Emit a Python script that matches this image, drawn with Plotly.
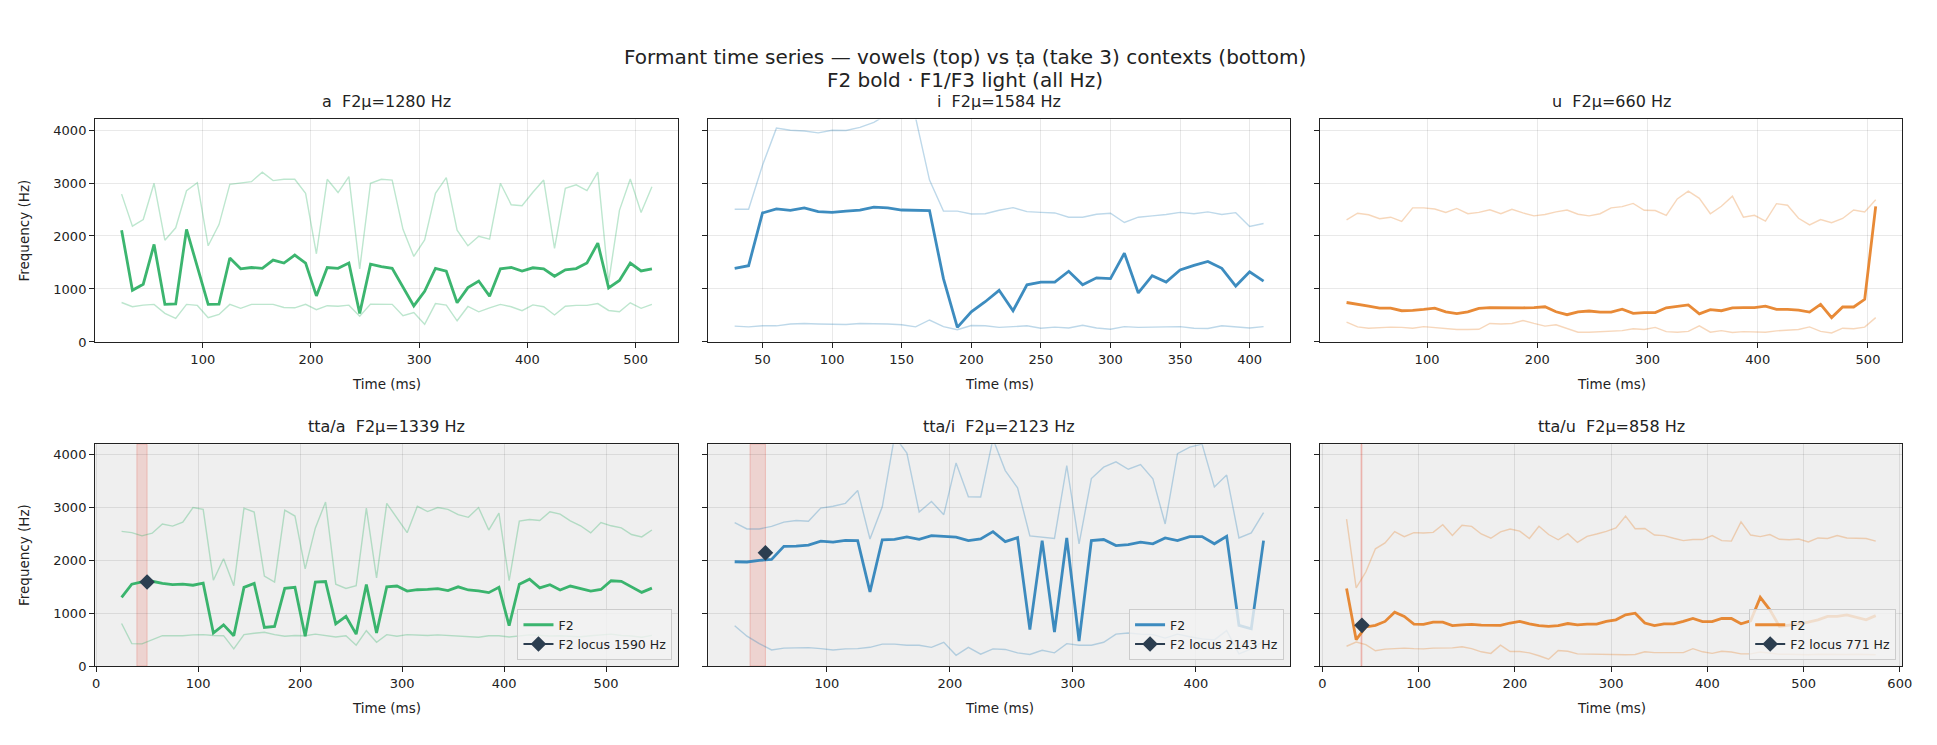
import numpy as np
import plotly.graph_objects as go

FONT = "DejaVu Sans"
W, H = 1937, 745

# ---------------- data (Hz) ----------------
# vowel "a"  (frames every 10 ms from 25 ms)
A_T = list(range(25, 516, 10))
A_F1 = [745, 665, 695, 710, 540, 445, 710, 690, 460, 520, 710, 635, 710, 710, 710, 650, 645, 710, 610, 685,
        675, 695, 485, 715, 715, 710, 495, 555, 335, 725, 695, 400, 670, 570, 645, 710, 665, 590, 700, 665,
        510, 675, 690, 690, 725, 595, 570, 740, 635, 710]
A_F2 = [2110, 975, 1090, 1840, 710, 720, 2125, 1440, 710, 715, 1585, 1380, 1405, 1390, 1545, 1490, 1640, 1490, 870, 1405,
        1390, 1490, 540, 1470, 1420, 1390, 1030, 680, 955, 1390, 1335, 740, 1025, 1150, 865, 1380, 1405, 1340, 1400, 1380,
        1240, 1360, 1385, 1490, 1865, 1020, 1160, 1490, 1340, 1380]
A_F3 = [2790, 2185, 2310, 2995, 1920, 2155, 2855, 3005, 1815, 2215, 2975, 3005, 3025, 3205, 3045, 3070, 3070, 2805, 1665, 3070,
        2820, 3120, 1380, 2995, 3070, 3055, 2125, 1615, 1925, 2805, 3100, 2110, 1815, 1995, 1940, 2995, 2590, 2570, 2825, 3055,
        1765, 2900, 2965, 2855, 3205, 1130, 2485, 3075, 2445, 2930]

# vowel "i"
I_T = list(range(30, 411, 10))
I_F1 = [300, 285, 305, 305, 340, 350, 340, 340, 330, 350, 350, 340, 325, 285, 415, 290, 230, 310, 305,
        275, 290, 305, 260, 280, 265, 315, 265, 240, 290, 275, 280, 280, 290, 260, 255, 305, 290, 265, 290]
I_F2 = [1390, 1440, 2435, 2510, 2485, 2530, 2460, 2445, 2470, 2490, 2545, 2530, 2490, 2490, 2480, 1195, 275, 570, 760,
        975, 590, 1080, 1130, 1130, 1335, 1080, 1210, 1195, 1675, 925, 1250, 1130, 1360, 1445, 1520, 1390, 1055, 1325, 1150]
I_F3 = [2505, 2505, 3335, 4035, 3995, 3980, 3945, 3995, 3990, 4050, 4145, 4300, 4400, 4230, 3055, 2470, 2470, 2415, 2420,
        2485, 2535, 2460, 2445, 2435, 2355, 2355, 2410, 2430, 2255, 2355, 2380, 2405, 2445, 2420, 2455, 2405, 2440, 2180, 2235]

# vowel "u"
U_T = list(range(27, 508, 10))
U_F1 = [375, 285, 260, 275, 280, 275, 260, 290, 275, 250, 235, 235, 240, 350, 340, 350, 405, 350, 300, 325,
        250, 185, 185, 195, 195, 215, 250, 235, 275, 195, 185, 200, 305, 185, 215, 180, 195, 195, 185, 210,
        225, 235, 285, 200, 170, 260, 250, 280, 460]
U_F2 = [745, 715, 675, 640, 640, 590, 595, 615, 640, 570, 535, 570, 635, 650, 645, 645, 645, 650, 665, 570,
        515, 570, 585, 565, 565, 620, 540, 555, 555, 645, 675, 700, 530, 610, 590, 645, 650, 650, 675, 615,
        615, 600, 565, 710, 460, 660, 660, 805, 2560]
U_F3 = [2305, 2430, 2400, 2325, 2355, 2275, 2530, 2530, 2510, 2445, 2520, 2420, 2445, 2495, 2420, 2505, 2435, 2380, 2405, 2455,
        2490, 2410, 2380, 2420, 2530, 2555, 2615, 2485, 2480, 2390, 2700, 2845, 2710, 2420, 2560, 2750, 2355, 2390, 2280, 2610,
        2580, 2335, 2210, 2310, 2250, 2330, 2490, 2455, 2685]

# context tta/a
TA_T = list(range(25, 546, 10))
TA_F1 = [805, 425, 420, 500, 575, 575, 575, 590, 595, 580, 575, 325, 595, 620, 640, 595, 565, 580, 575, 605,
         580, 550, 575, 395, 670, 450, 595, 565, 595, 590, 580, 590, 580, 570, 550, 545, 575, 575, 550, 575,
         590, 580, 570, 575, 565, 555, 575, 590, 605, 580, 570, 545, 580]
TA_F2 = [1300, 1550, 1595, 1605, 1565, 1540, 1550, 1530, 1570, 625, 780, 575, 1490, 1565, 730, 750, 1470, 1490, 565, 1590,
         1600, 800, 940, 605, 1545, 625, 1500, 1515, 1420, 1445, 1450, 1465, 1430, 1500, 1440, 1425, 1390, 1490, 765, 1550,
         1645, 1480, 1540, 1440, 1515, 1465, 1420, 1450, 1615, 1605, 1500, 1395, 1475]
TA_F3 = [2550, 2525, 2465, 2515, 2690, 2650, 2725, 3000, 2965, 1625, 2030, 1520, 2990, 2915, 1705, 1590, 2950, 2840, 1840, 2615,
         3105, 1550, 1470, 1520, 2990, 1670, 3080, 2805, 2525, 3025, 2925, 3000, 2965, 2865, 2815, 3000, 2575, 2895, 1615, 2745,
         2775, 2755, 2920, 2875, 2750, 2655, 2520, 2715, 2655, 2615, 2490, 2445, 2575]

# context tta/i
TI_T = list(range(25, 456, 10))
TI_F1 = [765, 565, 425, 305, 340, 350, 350, 330, 305, 325, 330, 355, 415, 415, 395, 395, 355, 450, 205, 355, 225, 325,
         315, 250, 220, 300, 250, 425, 395, 395, 450, 605, 625, 605, 595, 530, 605, 555, 515, 495, 670, 230, 325, 470]
TI_F2 = [1975, 1970, 2000, 2020, 2265, 2270, 2290, 2365, 2345, 2380, 2375, 1405, 2390, 2400, 2445, 2400, 2470, 2450, 2440, 2375, 2405, 2545,
         2355, 2430, 690, 2375, 645, 2425, 475, 2375, 2395, 2280, 2300, 2345, 2315, 2425, 2375, 2450, 2450, 2315, 2455, 770, 705, 2375]
TI_F3 = [2715, 2595, 2595, 2645, 2725, 2755, 2740, 2990, 3025, 3080, 3325, 2405, 3015, 4350, 4030, 2915, 3115, 2865, 3845, 3205, 3200, 4300,
         3700, 3375, 2465, 2440, 2415, 3795, 2315, 3550, 3765, 3865, 3725, 3815, 3545, 2690, 4020, 4145, 4200, 3390, 3615, 2425, 2520, 2905]

# context tta/u
TU_T = list(range(25, 576, 10))
TU_F1 = [375, 455, 405, 290, 320, 325, 340, 330, 325, 340, 345, 345, 365, 330, 270, 240, 395, 275, 275, 250,
         195, 130, 295, 280, 230, 225, 225, 220, 215, 215, 220, 270, 255, 250, 255, 255, 330, 270, 240, 280,
         265, 230, 230, 265, 250, 225, 225, 220, 215, 225, 220, 215, 220, 225, 220, 215]
TU_F2 = [1470, 500, 740, 770, 845, 1020, 940, 795, 790, 830, 830, 765, 780, 790, 775, 770, 770, 815, 845, 800,
         765, 750, 765, 805, 780, 795, 795, 845, 875, 970, 1000, 815, 765, 800, 800, 845, 900, 840, 840, 900,
         900, 800, 855, 1300, 1065, 750, 770, 800, 830, 875, 940, 940, 970, 920, 875, 955]
TU_F3 = [2780, 1480, 1780, 2220, 2330, 2545, 2450, 2525, 2520, 2530, 2675, 2470, 2665, 2645, 2500, 2420, 2540, 2595, 2555, 2415,
         2645, 2490, 2390, 2505, 2340, 2455, 2500, 2550, 2615, 2840, 2600, 2605, 2480, 2470, 2420, 2375, 2395, 2395, 2470, 2375,
         2365, 2730, 2480, 2450, 2490, 2400, 2390, 2405, 2350, 2425, 2415, 2470, 2425, 2425, 2415, 2365]

TITLES = ["a  F2μ=1280 Hz", "i  F2μ=1584 Hz", "u  F2μ=660 Hz",
          "tta/a  F2μ=1339 Hz", "tta/i  F2μ=2123 Hz", "tta/u  F2μ=858 Hz"]
LOCUS_T = [50, 50, 41]
LOCUS_HZ = [1590, 2143, 771]
SPANS = [(40, 50), (37.5, 50), (40, 41)]
X_DTICK = [100, 50, 100, 100, 100, 100]

GREEN, BLUE, ORANGE = "#27ae60", "#2980b9", "#e67e22"
LOCUS_COLOR = "#2c3e50"
SPAN_COLOR = "rgba(231,76,60,0.17)"
SPAN_EDGE = "rgba(231,76,60,0.25)"

panels = [
    (A_T, A_F1, A_F2, A_F3, GREEN), (I_T, I_F1, I_F2, I_F3, BLUE), (U_T, U_F1, U_F2, U_F3, ORANGE),
    (TA_T, TA_F1, TA_F2, TA_F3, GREEN), (TI_T, TI_F1, TI_F2, TI_F3, BLUE), (TU_T, TU_F1, TU_F2, TU_F3, ORANGE),
]

# ---------------- layout geometry (px) ----------------
COLS = [(92.7, 680.0), (710.0, 1295.7), (1326.0, 1912.0)]
ROWS = [(120.7, 345.7), (449.0, 673.3)]

TICK_FS = 13
LABEL_FS = 13.5
TITLE_FS = 16
SUPTITLE_FS = 20
LEGEND_FS = 12.5

fig = go.Figure()
layout = dict(
    width=W, height=H, margin=dict(l=0, r=0, t=0, b=0),
    paper_bgcolor="white", plot_bgcolor="white",
    font=dict(family=FONT, color="#222", size=TICK_FS),
    showlegend=True,
)
shapes, annotations = [], []
GRID = "rgba(0,0,0,0.085)"

for i, (t, f1, f2, f3, col) in enumerate(panels):
    r, c = divmod(i, 3)
    n = "" if i == 0 else str(i + 1)
    xa, ya = "x" + n, "y" + n
    x0, x1 = COLS[c]
    y0, y1 = ROWS[r]
    tmin, tmax = min(t), max(t)
    pad = 0.05 * (tmax - tmin)
    layout["xaxis" + n] = dict(
        domain=[x0 / W, x1 / W], anchor=ya, range=[tmin - pad, tmax + pad],
        tick0=0, dtick=X_DTICK[i], showgrid=True, gridcolor=GRID, gridwidth=1,
        showline=True, mirror=True, linecolor="#222", linewidth=1.1,
        ticks="outside", ticklen=5, tickwidth=1, tickcolor="#222",
        tickfont=dict(size=TICK_FS), zeroline=False,
    )
    layout["yaxis" + n] = dict(
        domain=[1 - y1 / H, 1 - y0 / H], anchor=xa, range=[0, 4200],
        tick0=0, dtick=1000, showgrid=True, gridcolor=GRID, gridwidth=1,
        showline=True, mirror=True, linecolor="#222", linewidth=1.1,
        ticks="outside", ticklen=5, tickwidth=1, tickcolor="#222",
        showticklabels=(c == 0), tickfont=dict(size=TICK_FS), zeroline=False,
    )
    # light formants
    for f in (f1, f3):
        fig.add_trace(go.Scatter(x=t, y=f, mode="lines", xaxis=xa, yaxis=ya,
                                 line=dict(color=col, width=1.4), opacity=0.3,
                                 showlegend=False, hoverinfo="skip"))
    leg = "legend" if c == 0 else "legend" + str(c + 1)
    fig.add_trace(go.Scatter(x=t, y=f2, mode="lines", xaxis=xa, yaxis=ya, name="F2",
                             line=dict(color=col, width=2.8), opacity=0.9,
                             showlegend=(r == 1), legend=leg))
    if r == 1:
        # grey panel background
        shapes.append(dict(type="rect", xref=xa + " domain", yref=ya + " domain",
                           x0=0, x1=1, y0=0, y1=1, fillcolor="#efefef",
                           line=dict(width=0), layer="below"))
        s0, s1 = SPANS[c]
        shapes.append(dict(type="rect", xref=xa, yref=ya + " domain", x0=s0, x1=s1,
                           y0=0, y1=1, fillcolor=SPAN_COLOR,
                           line=dict(width=1, color=SPAN_EDGE), layer="below"))
        fig.add_trace(go.Scatter(x=[LOCUS_T[c]], y=[LOCUS_HZ[c]], mode="lines+markers",
                                 xaxis=xa, yaxis=ya, name=f"F2 locus {LOCUS_HZ[c]} Hz",
                                 line=dict(color=LOCUS_COLOR, width=2),
                                 marker=dict(symbol="diamond", size=12, color=LOCUS_COLOR),
                                 legend=leg))
        layout[leg] = dict(
            x=(x1 - 6) / W, y=1 - (y1 - 6) / H, xanchor="right", yanchor="bottom",
            xref="paper", yref="paper", bgcolor="rgba(242,242,242,0.8)",
            bordercolor="#cccccc", borderwidth=1, font=dict(size=LEGEND_FS, family=FONT),
            itemwidth=30, tracegroupgap=0,
        )
    # subplot title
    annotations.append(dict(text=TITLES[i], x=(x0 + x1) / 2 / W, y=1 - (y0 - 18) / H,
                            xref="paper", yref="paper", showarrow=False,
                            xanchor="center", yanchor="middle", font=dict(size=TITLE_FS)))
    # x axis title
    annotations.append(dict(text="Time (ms)", x=(x0 + x1) / 2 / W, y=1 - (y1 + 42) / H,
                            xref="paper", yref="paper", showarrow=False,
                            xanchor="center", yanchor="middle", font=dict(size=LABEL_FS)))
    if c == 0:
        annotations.append(dict(text="Frequency (Hz)", x=21 / W, y=1 - (y0 + y1) / 2 / H,
                                xref="paper", yref="paper", showarrow=False, textangle=-90,
                                xanchor="center", yanchor="middle", font=dict(size=LABEL_FS)))

annotations.append(dict(text="Formant time series — vowels (top) vs ṭa (take 3) contexts (bottom)",
                        x=0.5, y=1 - 58 / H, xref="paper", yref="paper", showarrow=False,
                        xanchor="center", yanchor="middle", font=dict(size=SUPTITLE_FS)))
annotations.append(dict(text="F2 bold · F1/F3 light (all Hz)",
                        x=0.5, y=1 - 81 / H, xref="paper", yref="paper", showarrow=False,
                        xanchor="center", yanchor="middle", font=dict(size=SUPTITLE_FS)))

layout["shapes"] = shapes
layout["annotations"] = annotations
fig.update_layout(**layout)
fig.write_html("out.html")
